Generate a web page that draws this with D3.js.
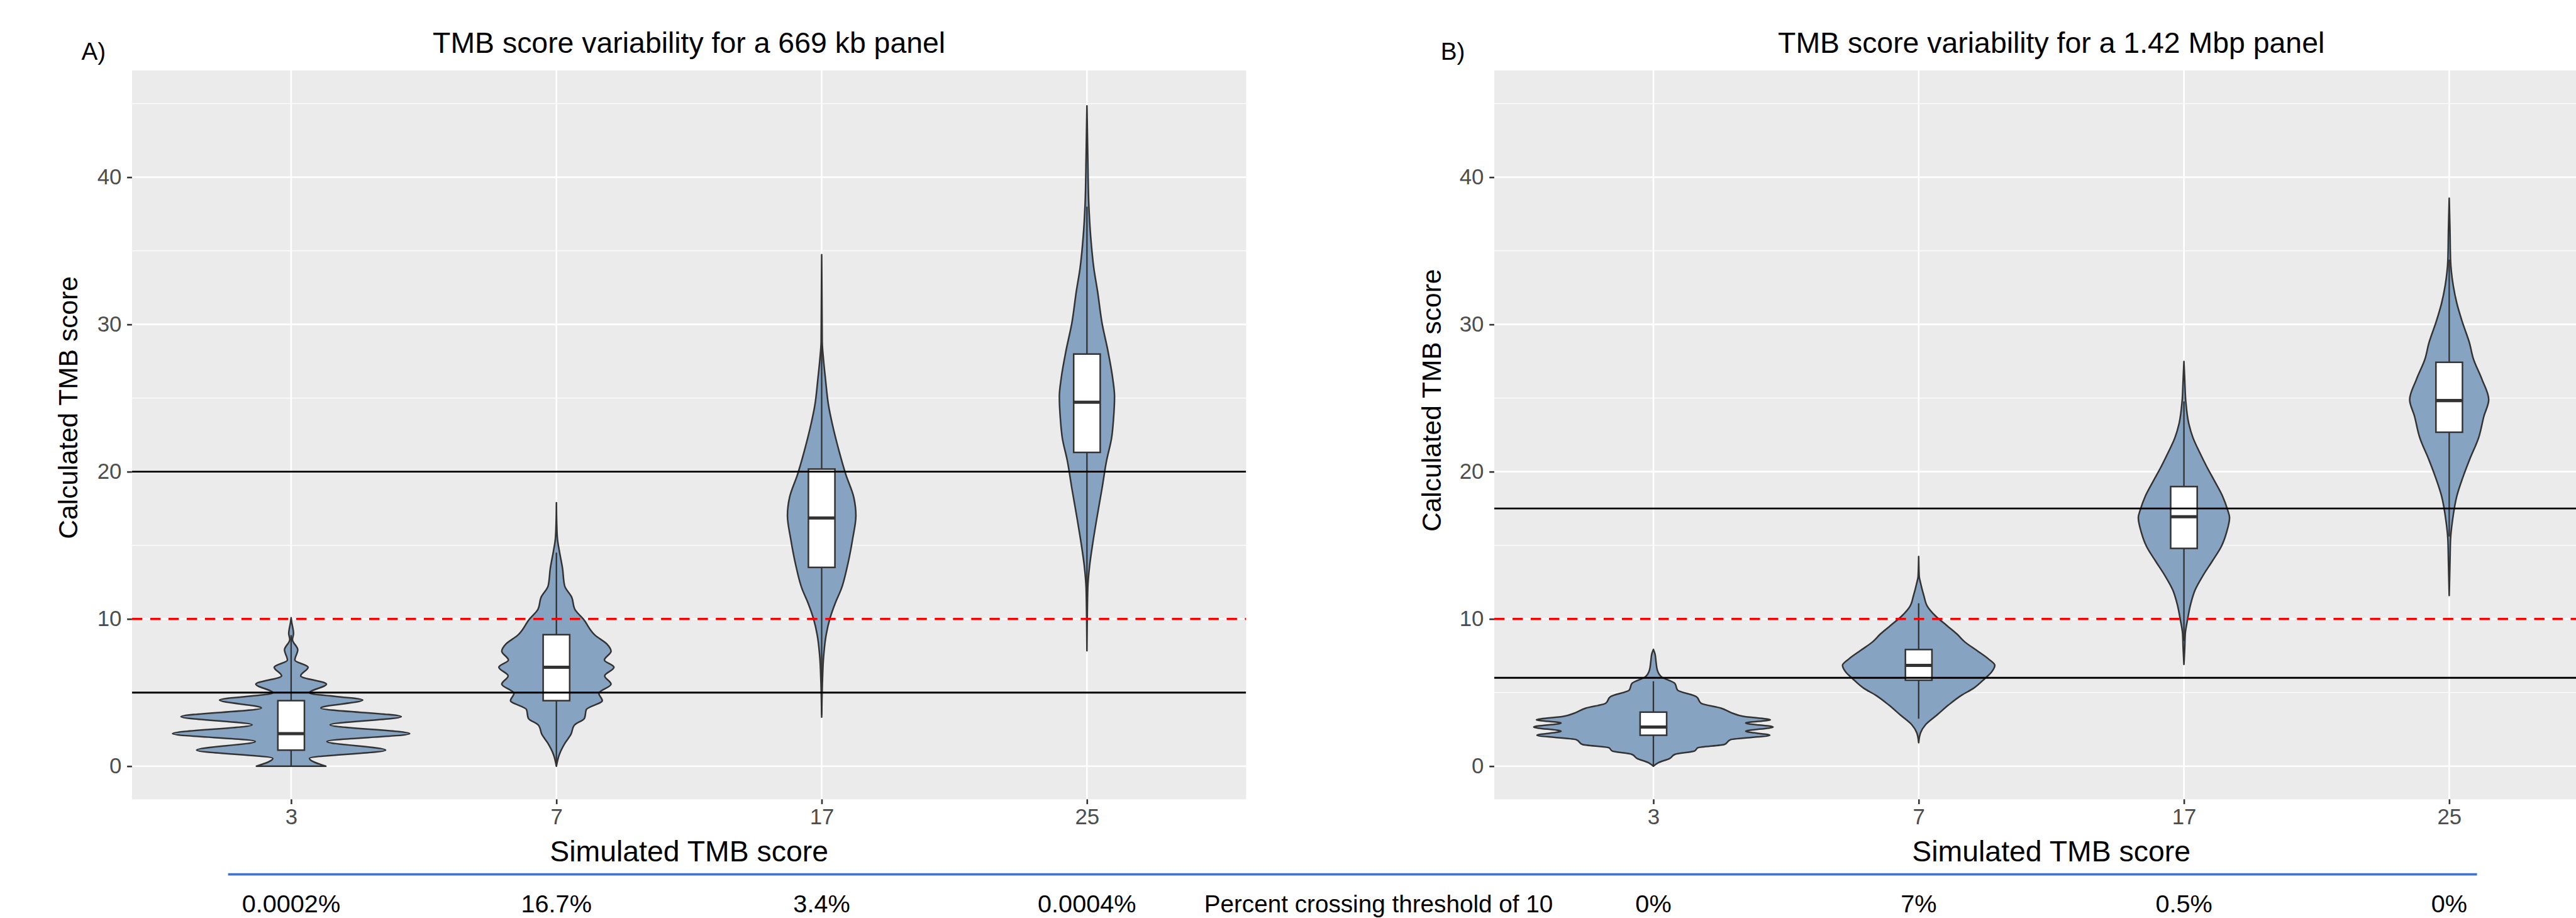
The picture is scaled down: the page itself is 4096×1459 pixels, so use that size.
<!DOCTYPE html>
<html>
<head>
<meta charset="utf-8">
<script src="https://cdn.jsdelivr.net/npm/d3@7"></script>
<style>
  html, body { margin: 0; padding: 0; background: #fff; overflow: hidden; }
  svg { display: block; }
  text { font-family: "Liberation Sans", Arial, sans-serif; }
</style>
</head>
<body>
<script>
// categories and axis ticks
var cats = ["3", "7", "17", "25"];
var yTicks = [0, 10, 20, 30, 40];
var yMinor = [5, 15, 25, 35, 45];
var cutoff = 10;

// panel A (669 kb) - violin profiles: [score, half width as share of category step]
var violA3 = [[0,0.131],[0.53,0.069],[1.09,0.356],[1.68,0.135],[2.21,0.447],[2.81,0.147],[3.36,0.415],[3.95,0.112],[4.49,0.27],[4.98,0.069],[5.57,0.133],[6.13,0.036],[6.72,0.064],[7.21,0.014],[7.9,0.025],[8.6,0.005],[9.0,0.009],[9.8,0.002],[10.08,0]];
var violA7 = [[0,0],[0.79,0.011],[1.58,0.033],[2.17,0.055],[2.77,0.067],[3.26,0.106],[3.85,0.113],[4.45,0.173],[4.94,0.16],[5.57,0.206],[6.13,0.182],[6.72,0.217],[7.21,0.181],[7.81,0.206],[8.3,0.19],[8.89,0.146],[9.98,0.102],[10.67,0.069],[11.46,0.058],[12.25,0.031],[13.44,0.023],[14.62,0.011],[15.42,0.004],[16.6,0.001],[17.89,0]];
var violA17 = [[3.33,0],[5.82,0.003],[7.38,0.007],[8.93,0.017],[10.02,0.031],[11.11,0.052],[12.04,0.074],[13.6,0.097],[15.46,0.117],[17.02,0.129],[18.26,0.121],[19.81,0.091],[21.37,0.066],[23.24,0.04],[24.48,0.026],[26.35,0.014],[27.59,0.007],[28.83,0.002],[34.74,0]];
var violA25 = [[7.84,0],[12.04,0.003],[13.6,0.01],[15.15,0.022],[16.7,0.036],[18.88,0.057],[20.75,0.074],[22.3,0.093],[23.55,0.1],[25.1,0.104],[26.35,0.097],[28.21,0.079],[30.08,0.057],[32.25,0.04],[33.81,0.026],[35.98,0.014],[38.16,0.007],[41.58,0.003],[44.84,0]];
// box stats: [low whisker, q1, median, q3, high whisker]
var boxA = [[0,1.09,2.21,4.45,8.9],[0,4.45,6.72,8.93,14.5],[3.5,13.5,16.86,20.18,28.4],[11.4,21.31,24.72,27.99,38.0]];
var linesA = [5, 20];
var pctA = ["0.0002%", "16.7%", "3.4%", "0.0004%"];

// panel B (1.42 Mbp)
var violB3 = [[0,0],[0.24,0.019],[0.53,0.062],[0.8,0.081],[1.03,0.155],[1.25,0.168],[1.47,0.267],[1.81,0.292],[2.1,0.439],[2.37,0.348],[2.66,0.451],[2.93,0.348],[3.15,0.441],[3.38,0.339],[3.6,0.298],[3.94,0.255],[4.27,0.18],[4.72,0.162],[5.17,0.091],[5.62,0.081],[6.06,0.031],[6.51,0.015],[7.07,0.01],[7.63,0.006],[7.93,0]];
var violB7 = [[1.59,0],[2.26,0.007],[2.82,0.026],[3.49,0.07],[4.16,0.113],[4.83,0.163],[5.28,0.206],[5.96,0.25],[6.4,0.275],[6.85,0.287],[7.3,0.262],[7.86,0.219],[8.42,0.175],[8.98,0.144],[9.54,0.107],[10.21,0.063],[10.88,0.032],[11.55,0.02],[12.45,0.007],[12.9,0.002],[14.24,0]];
var violB17 = [[6.91,0],[8.02,0.003],[9.0,0.005],[9.99,0.014],[10.98,0.025],[11.96,0.042],[12.95,0.072],[13.93,0.107],[14.92,0.141],[15.9,0.161],[16.89,0.172],[17.38,0.165],[18.36,0.145],[19.35,0.116],[20.34,0.086],[21.32,0.059],[22.31,0.034],[23.29,0.018],[24.77,0.007],[26.25,0.003],[27.48,0]];
var violB25 = [[11.59,0],[13.93,0.003],[15.41,0.005],[16.64,0.012],[18.36,0.029],[19.84,0.056],[20.83,0.077],[22.31,0.111],[23.78,0.131],[24.89,0.149],[26.25,0.124],[27.73,0.09],[28.71,0.077],[30.19,0.049],[31.42,0.029],[32.66,0.015],[34.38,0.005],[36.35,0.003],[38.57,0]];
var boxB = [[0,2.1,2.66,3.67,5.77],[3.22,5.84,6.85,7.92,11.06],[8.5,14.79,16.94,18.99,24.77],[15.6,22.68,24.83,27.43,34.4]];
var linesB = [6, 17.5];
var pctB = ["0%", "7%", "0.5%", "0%"];

var rowLabel = "Percent crossing threshold of 10";

var S = 0.967;
var plotTop = 115.8, plotBottom = 1313.7, plotW = 1832;

var svg = d3.select("body").append("svg")
    .attr("width", 4096)
    .attr("height", 1459);

var root = svg.append("g").attr("transform", "scale(" + S + ")");

var y = d3.scaleLinear().domain([-2.25, 47.25]).range([plotBottom, plotTop]);

function panel(p) {
    var x = d3.scalePoint().domain(cats).range([p.left, p.left + plotW]).padding(0.6);
    var step = x.step();
    var g = root.append("g");

    g.append("clipPath").attr("id", "clip" + p.id)
        .append("rect")
        .attr("x", p.left).attr("y", plotTop)
        .attr("width", plotW).attr("height", plotBottom - plotTop);

    g.append("rect")
        .attr("x", p.left).attr("y", plotTop)
        .attr("width", plotW).attr("height", plotBottom - plotTop)
        .attr("fill", "#EBEBEB");

    var inner = g.append("g").attr("clip-path", "url(#clip" + p.id + ")");

    inner.selectAll(".minor").data(yMinor).enter().append("line")
        .attr("x1", p.left).attr("x2", p.left + plotW)
        .attr("y1", function (d) { return y(d); })
        .attr("y2", function (d) { return y(d); })
        .attr("stroke", "#fff").attr("stroke-width", 1.4);

    inner.selectAll(".major").data(yTicks).enter().append("line")
        .attr("x1", p.left).attr("x2", p.left + plotW)
        .attr("y1", function (d) { return y(d); })
        .attr("y2", function (d) { return y(d); })
        .attr("stroke", "#fff").attr("stroke-width", 2.7);

    inner.selectAll(".vgrid").data(cats).enter().append("line")
        .attr("x1", function (d) { return x(d); })
        .attr("x2", function (d) { return x(d); })
        .attr("y1", plotTop).attr("y2", plotBottom)
        .attr("stroke", "#fff").attr("stroke-width", 2.7);

    // violins
    p.violins.forEach(function (v, i) {
        var cx = x(cats[i]);
        var area = d3.area()
            .y(function (d) { return y(d[0]); })
            .x0(function (d) { return cx - d[1] * step; })
            .x1(function (d) { return cx + d[1] * step; })
            .curve(d3.curveMonotoneY);
        inner.append("path")
            .attr("d", area(v))
            .attr("fill", "#87A3C2")
            .attr("stroke", "#333333")
            .attr("stroke-width", 2.6)
            .attr("stroke-linejoin", "round");
    });

    // boxplots
    p.boxes.forEach(function (b, i) {
        var cx = x(cats[i]);
        var hw = 0.05 * step;
        inner.append("line")
            .attr("x1", cx).attr("x2", cx)
            .attr("y1", y(b[3])).attr("y2", y(b[4]))
            .attr("stroke", "#333333").attr("stroke-width", 2.4);
        inner.append("line")
            .attr("x1", cx).attr("x2", cx)
            .attr("y1", y(b[1])).attr("y2", y(b[0]))
            .attr("stroke", "#333333").attr("stroke-width", 2.4);
        inner.append("rect")
            .attr("x", cx - hw).attr("width", 2 * hw)
            .attr("y", y(b[3])).attr("height", y(b[1]) - y(b[3]))
            .attr("fill", "#fff")
            .attr("stroke", "#333333").attr("stroke-width", 2.6);
        inner.append("line")
            .attr("x1", cx - hw).attr("x2", cx + hw)
            .attr("y1", y(b[2])).attr("y2", y(b[2]))
            .attr("stroke", "#333333").attr("stroke-width", 5.2);
    });

    // thresholds
    inner.selectAll(".thr").data(p.lines).enter().append("line")
        .attr("x1", p.left).attr("x2", p.left + plotW)
        .attr("y1", function (d) { return y(d); })
        .attr("y2", function (d) { return y(d); })
        .attr("stroke", "#000").attr("stroke-width", 3);

    inner.append("line")
        .attr("x1", p.left).attr("x2", p.left + plotW)
        .attr("y1", y(cutoff)).attr("y2", y(cutoff))
        .attr("stroke", "#FF0000").attr("stroke-width", 3.6)
        .attr("stroke-dasharray", "17,13");

    // axes
    var ya = g.append("g")
        .attr("transform", "translate(" + p.left + ",0)")
        .call(d3.axisLeft(y).tickValues(yTicks).tickSize(8).tickPadding(9));
    var xa = g.append("g")
        .attr("transform", "translate(0," + plotBottom + ")")
        .call(d3.axisBottom(x).tickSize(8).tickPadding(7));
    [ya, xa].forEach(function (a) {
        a.select(".domain").remove();
        a.selectAll(".tick line").attr("stroke", "#333333").attr("stroke-width", 2.7);
        a.selectAll(".tick text")
            .attr("fill", "#4D4D4D")
            .style("font-size", "36px")
            .style("font-family", "'Liberation Sans', Arial, sans-serif");
    });

    // titles
    g.append("text")
        .attr("x", p.left + plotW / 2).attr("y", 87)
        .attr("text-anchor", "middle")
        .style("font-size", "48px")
        .text(p.title);
    g.append("text")
        .attr("x", p.tagX).attr("y", 98)
        .style("font-size", "40px")
        .text(p.tag);
    g.append("text")
        .attr("x", p.left + plotW / 2).attr("y", 1416)
        .attr("text-anchor", "middle")
        .style("font-size", "48px")
        .text("Simulated TMB score");
    g.append("text")
        .attr("transform", "translate(" + p.yLabX + "," + p.yLabY + ") rotate(-90)")
        .attr("text-anchor", "middle")
        .style("font-size", "44px")
        .text("Calculated TMB score");

    // percentage row
    g.selectAll(".pct").data(p.pct).enter().append("text")
        .attr("x", function (d, i) { return x(cats[i]); })
        .attr("y", 1500)
        .attr("text-anchor", "middle")
        .style("font-size", "41px")
        .text(function (d) { return d; });
}

panel({ id: "A", left: 217, violins: [violA3, violA7, violA17, violA25], boxes: boxA,
    lines: linesA, pct: pctA, title: "TMB score variability for a 669 kb panel",
    tag: "A)", tagX: 134, yLabX: 127, yLabY: 670 });
panel({ id: "B", left: 2457, violins: [violB3, violB7, violB17, violB25], boxes: boxB,
    lines: linesB, pct: pctB, title: "TMB score variability for a 1.42 Mbp panel",
    tag: "B)", tagX: 2369, yLabX: 2369, yLabY: 658 });

// blue separator and row label
root.append("line")
    .attr("x1", 375).attr("x2", 4073)
    .attr("y1", 1437).attr("y2", 1437)
    .attr("stroke", "#4472C4").attr("stroke-width", 4);
root.append("text")
    .attr("x", 1980).attr("y", 1500)
    .style("font-size", "40px")
    .text(rowLabel);
</script>
</body>
</html>
